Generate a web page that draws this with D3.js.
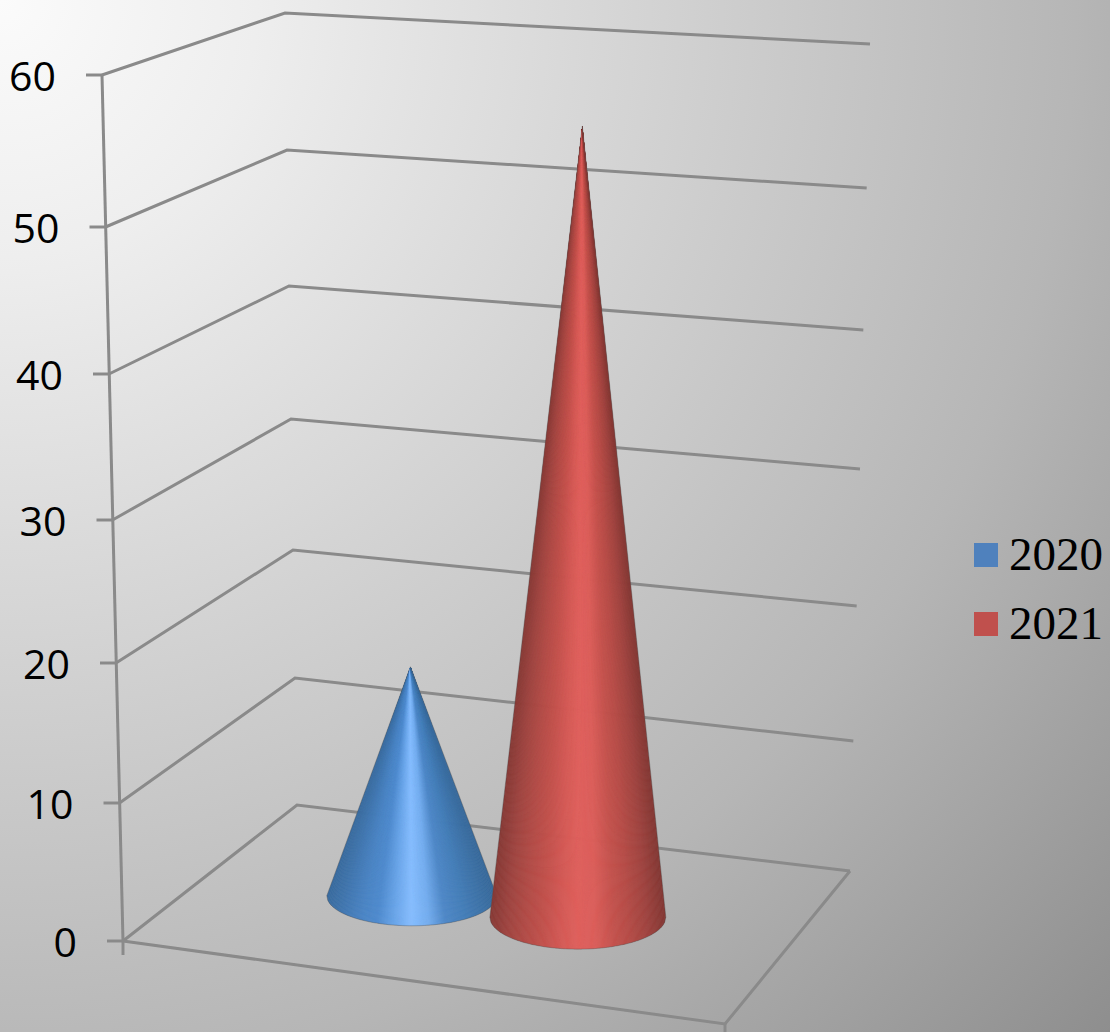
<!DOCTYPE html>
<html>
<head>
<meta charset="utf-8">
<style>
    html, body { margin: 0; padding: 0; overflow: hidden; }
    svg { display: block; }
</style>
<script src="https://cdn.jsdelivr.net/npm/d3@7"></script>
</head>
<body>
<div id="chart"></div>
<script>
const seriesNames = ["2020", "2021"]
const seriesValues = [17, 56]
const valueTicks = [0, 10, 20, 30, 40, 50, 60]

const seriesColors = ["#4f81bd", "#c0504d"]
const blueShades = ["#3a6c9f", "#4278b2", "#4a84c4", "#4f8bcf", "#6aa6ea", "#86bdff", "#74aef0", "#4f88c8", "#4680bb", "#3f75ab", "#386a9b"]
const redShades = ["#873a36", "#a04541", "#b34c47", "#c2514c", "#d45955", "#e0605c", "#dc5e5a", "#c6534e", "#b54c47", "#a04440", "#843834"]

const width = 1110, height = 1032

// the chart box is in perspective, so each of the four upright edges has its own scale
const frontLeftY = d3.scaleLinear().domain(valueTicks).range([941, 803, 663, 520, 374, 227, 75])
const backLeftY = d3.scaleLinear().domain(valueTicks).range([805, 678, 550, 419, 286, 150, 13])
const backRightY = d3.scaleLinear().domain(valueTicks).range([871, 741, 606, 469, 330, 188, 44])
const frontRightY = v => 1024 - 1.044 * (941 - frontLeftY(v))

const frontLeftX = d3.scaleLinear().domain([0, 60]).range([123, 102])
const backLeftX = d3.scaleLinear().domain([0, 60]).range([297, 285])
const backRightX = d3.scaleLinear().domain([0, 60]).range([850, 870])
const frontRightX = d3.scaleLinear().domain([0, 60]).range([725, 739])

// u runs left to right, d runs front to back
function project(u, d, v) {
    const left = [d3.interpolateNumber(frontLeftX(v), backLeftX(v))(d), d3.interpolateNumber(frontLeftY(v), backLeftY(v))(d)]
    const right = [d3.interpolateNumber(frontRightX(v), backRightX(v))(d), d3.interpolateNumber(frontRightY(v), backRightY(v))(d)]
    return [left[0] + (right[0] - left[0]) * u, left[1] + (right[1] - left[1]) * u]
}

const u = d3.scaleBand().domain(seriesNames).range([0.2, 0.776])

const svg = d3.select("#chart")
    .append("svg")
    .attr("width", width)
    .attr("height", height)

const defs = svg.append("defs")
// background darkens outward from the top left corner
const bg = defs.append("radialGradient")
    .attr("id", "bg")
    .attr("gradientUnits", "userSpaceOnUse")
    .attr("cx", 0).attr("cy", 0).attr("r", 1515)
bg.append("stop").attr("offset", 0).attr("stop-color", "#fbfbfb")
bg.append("stop").attr("offset", 0.17).attr("stop-color", "#eeeeee")
bg.append("stop").attr("offset", 0.467).attr("stop-color", "#cfcfcf")
bg.append("stop").attr("offset", 0.71).attr("stop-color", "#b6b6b6")
bg.append("stop").attr("offset", 1).attr("stop-color", "#8e8e8e")

defs.append("filter")
    .attr("id", "soft")
    .append("feGaussianBlur")
    .attr("stdDeviation", 0.5)

svg.append("rect")
    .attr("width", width)
    .attr("height", height)
    .attr("fill", "url(#bg)")

const line = d3.line()
const diagram = svg.append("g")
    .attr("fill", "none")
    .attr("stroke", "#8a8a8a")
    .attr("stroke-width", 3)
    .attr("filter", "url(#soft)")

// gridlines, side wall then back wall
diagram.selectAll("path.grid")
    .data(valueTicks)
    .join("path")
    .attr("class", "grid")
    .attr("d", v => line([project(0, 0, v), project(0, 1, v), project(1, 1, v)]))

// floor front and right edge, plus the value axis
diagram.append("path")
    .attr("d", line([project(0, 0, 0), project(1, 0, 0), project(1, 1, 0)]))
diagram.append("path")
    .attr("d", line([project(0, 0, 60), project(0, 0, 0)]))

// tick marks
diagram.selectAll("path.tick")
    .data(valueTicks)
    .join("path")
    .attr("class", "tick")
    .attr("d", v => {
        const p = project(0, 0, v)
        return line([[p[0] - 16, p[1]], p])
    })
diagram.append("path")
    .attr("d", () => {
        const p = project(0, 0, 0)
        return line([p, [p[0], p[1] + 14]])
    })
diagram.append("path")
    .attr("d", () => {
        const p = project(1, 0, 0)
        return line([p, [p[0], p[1] + 10]])
    })

svg.selectAll("text.value")
    .data(valueTicks)
    .join("text")
    .attr("class", "value")
    .attr("x", v => project(0, 0, v)[0] - 46)
    .attr("y", v => project(0, 0, v)[1] + 16)
    .attr("text-anchor", "end")
    .attr("font-family", "'Open Sans', sans-serif")
    .attr("font-size", 41)
    .attr("fill", "#000")
    .text(v => v)

// cones, built as a fan of thin slices so the shine meets at the tip
const baseRadius = [[85, 30], [88, 32]]
const shades = [blueShades, redShades]
const sliceCount = 160
const coneDepth = 0.52

seriesNames.forEach((name, i) => {
    const center = u(name) + u.bandwidth() / 2
    const base = project(center, coneDepth, 0)
    const tip = project(center, coneDepth, seriesValues[i])
    const rx = baseRadius[i][0], ry = baseRadius[i][1]
    const shade = d3.scaleLinear()
        .domain(d3.range(shades[i].length).map(k => k / (shades[i].length - 1)))
        .range(shades[i])
    const rim = t => {
        const x = -1 + 2 * t
        return [base[0] + rx * x, base[1] + ry * Math.sqrt(1 - x * x)]
    }
    // clip the fan to the outline so the slice strokes do not roughen the rim
    const outline = line([tip, ...d3.range(sliceCount + 1).map(k => rim(k / sliceCount))]) + "Z"
    defs.append("clipPath")
        .attr("id", "cone-" + name)
        .append("path")
        .attr("d", outline)
    const cone = svg.append("g")
    cone.append("g")
        .attr("clip-path", "url(#cone-" + name + ")")
        .selectAll("path")
        .data(d3.range(sliceCount))
        .join("path")
        .attr("d", k => line([tip, rim(k / sliceCount), rim((k + 1) / sliceCount)]) + "Z")
        .attr("fill", k => shade((k + 0.5) / sliceCount))
        .attr("stroke", k => shade((k + 0.5) / sliceCount))
        .attr("stroke-width", 0.7)
    cone.append("path")
        .attr("d", outline)
        .attr("fill", "none")
        .attr("stroke", "#555")
        .attr("stroke-opacity", 0.4)
        .attr("stroke-width", 1)
})

// legend
const legend = svg.selectAll("g.legend")
    .data(seriesNames)
    .join("g")
    .attr("class", "legend")
    .attr("transform", (d, i) => "translate(974," + (543 + i * 69) + ")")
legend.append("rect")
    .attr("width", 24)
    .attr("height", 24)
    .attr("fill", (d, i) => seriesColors[i])
legend.append("text")
    .attr("x", 35)
    .attr("y", 27)
    .attr("font-family", "'Liberation Serif', serif")
    .attr("font-size", 47)
    .attr("fill", "#000")
    .text(d => d)
</script>
</body>
</html>
